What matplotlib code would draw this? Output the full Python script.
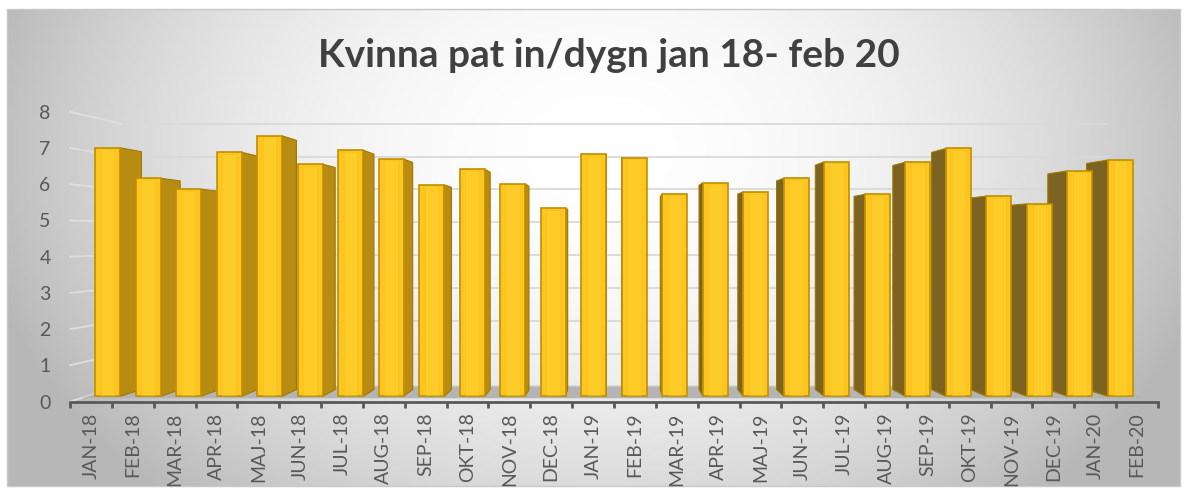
import numpy as np
import matplotlib.pyplot as plt
from matplotlib.patches import Rectangle

# Monthly values
months = ['JAN-18', 'FEB-18', 'MAR-18', 'APR-18', 'MAJ-18', 'JUN-18', 'JUL-18', 'AUG-18',
          'SEP-18', 'OKT-18', 'NOV-18', 'DEC-18', 'JAN-19', 'FEB-19', 'MAR-19', 'APR-19',
          'MAJ-19', 'JUN-19', 'JUL-19', 'AUG-19', 'SEP-19', 'OKT-19', 'NOV-19', 'DEC-19',
          'JAN-20', 'FEB-20']
values = [7.09, 6.22, 5.91, 6.96, 7.43, 6.62, 7.02, 6.77,
          6.03, 6.48, 6.06, 5.37, 6.91, 6.81, 5.76, 6.09,
          5.83, 6.22, 6.69, 5.76, 6.68, 7.07, 5.71, 5.49,
          6.43, 6.74]
yticks = [0, 1, 2, 3, 4, 5, 6, 7, 8]
title = 'Kvinna pat in/dygn jan 18- feb 20'

plt.rcParams['font.family'] = ['Lato', 'DejaVu Sans']

fig = plt.figure(figsize=(11.86, 4.92), dpi=100)

# background: radial grey gradient inside a thin frame
bg = fig.add_axes([0, 0, 1, 1])
bg.set_xlim(0, 1186)
bg.set_ylim(492, 0)
bg.axis('off')
gx, gy = np.meshgrid(np.linspace(7, 1180, 300), np.linspace(9, 486, 150))
r2 = ((gx - 600) / 600) ** 2 + ((gy - 150) / 450) ** 2
shade = np.clip(1 - 0.25 * r2, 0.72, 1)
bg.imshow(np.dstack([shade] * 3), extent=(7, 1180, 486, 9), aspect='auto', zorder=0)
bg.add_patch(Rectangle((7, 9), 1173, 477, fill=False, ec='#c8c8c8', lw=1, zorder=1))

# main axes, front plane in data units
ax = fig.add_axes([70 / 1186, 0.18394, 1088 / 1186, 0.6331])
ax.patch.set_alpha(0)
n = len(values)
ax.set_xlim(-0.5, n - 0.5)
ax.set_ylim(0, 8.6)

# simple perspective: points move toward a vanishing point with depth s
VX, VY = (n - 1) / 2, 4.46
s_front, s_back, s_wall, s_floor = 0.032, 0.074, 0.093, 0.02
w = 0.61


def proj(x, y, s):
    return VX + (1 - s) * (x - VX), VY + (1 - s) * (y - VY)


# back wall and left wall gridlines
for v in yticks:
    x0, y0 = proj(-0.5, v, s_wall)
    x1, y1 = proj(n - 0.5, v, s_wall)
    ax.plot([x0, x1], [y0, y1], color='#d9d9d9', lw=1.3, zorder=1, clip_on=False)
    xa, ya = proj(-0.5, v, 0)
    ax.plot([xa, x0], [ya, y0], color='#dedede', lw=1.3, zorder=1, clip_on=False)

# floor
fl = [proj(-0.5, 0, s_floor), proj(n - 0.5, 0, s_floor),
      proj(n - 0.5, 0, s_wall), proj(-0.5, 0, s_wall)]
ax.fill([p[0] for p in fl], [p[1] for p in fl], color='#b4b4b4', zorder=2, lw=0)

# bars, drawn from the outside toward the centre
for i, v in enumerate(values):
    z = 3 + (n - abs(i - VX)) * 0.1
    if i < VX:
        edge = i + w / 2
        side_col = '#b88c12'
    else:
        edge = i - w / 2
        side_col = '#7d6322'
    pts = [proj(edge, 0, s_front), proj(edge, v, s_front),
           proj(edge, v, s_back), proj(edge, 0, s_back)]
    ax.fill([p[0] for p in pts], [p[1] for p in pts], facecolor=side_col,
            edgecolor='#a07800', lw=0.8, zorder=z)
    cx, by = proj(i, 0, s_front)
    ax.bar(cx, (1 - s_front) * v, width=(1 - s_front) * w, bottom=by,
           color='#fdc521', edgecolor='#c09000', lw=1.2, zorder=z + 0.01)
    ax.bar(cx, (1 - s_front) * v - 0.08, width=(1 - s_front) * w * 0.55, bottom=by + 0.04,
           color='#ffd22e', edgecolor='#f5c010', lw=0.5, alpha=0.6, zorder=z + 0.02)

# axes styling
for side in ['top', 'right', 'left']:
    ax.spines[side].set_visible(False)
ax.spines['bottom'].set_color('#595959')
ax.spines['bottom'].set_linewidth(2)
ax.spines['bottom'].set_zorder(20)

ax.set_yticks(yticks)
ax.set_yticklabels([str(t) for t in yticks])
ax.tick_params(axis='y', length=0, pad=14, labelsize=14, labelcolor='#595959')

ax.set_xticks(range(n))
ax.set_xticklabels(months, rotation=90)
ax.set_xticks(np.arange(-0.5, n, 1), minor=True)
ax.tick_params(axis='x', which='major', length=0, pad=8, labelsize=14, labelcolor='#595959')
ax.tick_params(axis='x', which='minor', length=4, width=2, color='#595959', direction='out')

fig.text(609 / 1186, 1 - 67 / 492, title, ha='center', va='baseline',
         fontsize=28, fontweight='bold', color='#404040')

plt.savefig('out.png', dpi=100)
